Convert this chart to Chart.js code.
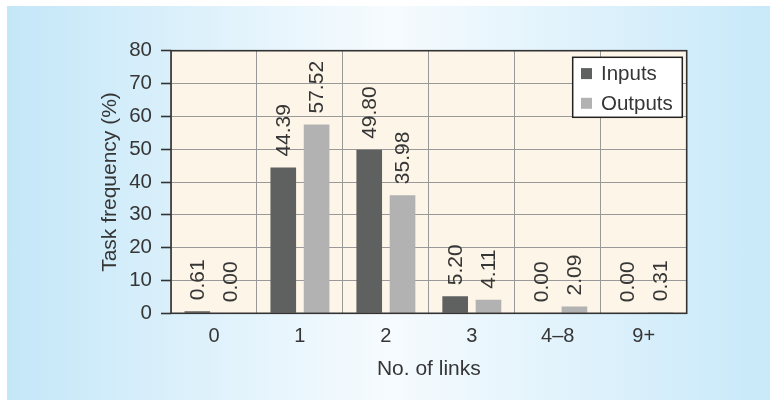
<!DOCTYPE html>
<html>
<head>
<meta charset="utf-8">
<script src="https://cdn.jsdelivr.net/npm/chart.js@4.4.1/dist/chart.umd.min.js"></script>
<style>
  html, body { margin: 0; padding: 0; background: #ffffff; }
  #wrap { position: relative; width: 770px; height: 405px; overflow: hidden; }
  #panel {
    position: absolute; left: 7px; top: 6px; width: 763px; height: 394px;
    background: linear-gradient(to right, #c4e7f8 0%, #e2f3fc 30%, #f6fbfe 50%, #e2f3fc 72%, #c8e9f9 100%);
  }
  #c { position: absolute; left: 0; top: 0; }
</style>
</head>
<body>
<div id="wrap">
  <div id="panel"></div>
  <canvas id="c" width="770" height="405"></canvas>
</div>
<script>
// Share of tasks by number of links
const categories = ['0', '1', '2', '3', '4\u20138', '9+'];
const inputs  = [0.61, 44.39, 49.80, 5.20, 0.00, 0.00];
const outputs = [0.00, 57.52, 35.98, 4.11, 2.09, 0.31];
const yTicks  = [0, 10, 20, 30, 40, 50, 60, 70, 80];
const seriesNames = ['Inputs', 'Outputs'];

const FONT = '"Liberation Sans", Arial, Helvetica, sans-serif';
const TEXT = '#363636';
const DARK = '#5f6160';
const LIGHT = '#b2b2b2';

// Cream plot background
const plotFill = {
  id: 'plotFill',
  beforeDraw(chart) {
    const { ctx, chartArea: a } = chart;
    ctx.save();
    ctx.fillStyle = '#fdf5e7';
    ctx.fillRect(a.left, a.top, a.right - a.left, a.bottom - a.top);
    ctx.restore();
  }
};

// Frame around the plot, rotated value labels and the boxed legend
const decorations = {
  id: 'decorations',
  afterDraw(chart) {
    const { ctx, chartArea: a } = chart;
    ctx.save();
    ctx.strokeStyle = '#333333';
    ctx.lineWidth = 1.6;
    ctx.strokeRect(a.left, a.top, a.right - a.left, a.bottom - a.top);

    ctx.fillStyle = TEXT;
    ctx.font = '21px ' + FONT;
    ctx.textAlign = 'left';
    ctx.textBaseline = 'middle';
    chart.data.datasets.forEach((ds, di) => {
      chart.getDatasetMeta(di).data.forEach((bar, i) => {
        ctx.save();
        ctx.translate(bar.x, bar.y - 11);
        ctx.rotate(-Math.PI / 2);
        ctx.fillText(ds.data[i].toFixed(2), 0, 1);
        ctx.restore();
      });
    });

    // legend box in the upper right corner of the plot
    const bx = a.right - 4.4, by = a.top + 6.6, bw = 109.6, bh = 60;
    const x0 = bx - bw;
    ctx.fillStyle = '#ffffff';
    ctx.fillRect(x0, by, bw, bh);
    ctx.strokeStyle = '#222222';
    ctx.lineWidth = 1.5;
    ctx.strokeRect(x0, by, bw, bh);
    ctx.font = '20.5px ' + FONT;
    ctx.textBaseline = 'middle';
    chart.data.datasets.forEach((ds, di) => {
      const cy = by + 16.3 + di * 29.7;
      ctx.fillStyle = ds.backgroundColor;
      ctx.fillRect(x0 + 8.3, cy - 5.5, 11, 11);
      ctx.fillStyle = TEXT;
      ctx.fillText(ds.label, x0 + 28.3, cy + 1);
    });
    ctx.restore();
  }
};

new Chart(document.getElementById('c'), {
  type: 'bar',
  data: {
    labels: categories,
    datasets: [
      { label: seriesNames[0], data: inputs, backgroundColor: DARK },
      { label: seriesNames[1], data: outputs, backgroundColor: LIGHT }
    ]
  },
  options: {
    responsive: false,
    animation: false,
    layout: { padding: { top: 50.7, right: 83.3, left: 0, bottom: 0 } },
    datasets: { bar: { categoryPercentage: 0.775, barPercentage: 0.77 } },
    plugins: { legend: { display: false }, tooltip: { enabled: false } },
    scales: {
      x: {
        afterFit(scale) { scale.height = 91.7; },
        grid: { display: true, offset: true, color: '#999999', lineWidth: 1, drawTicks: false },
        border: { display: false },
        ticks: { color: TEXT, font: { family: FONT, size: 20 }, padding: 11 },
        title: {
          display: true, text: 'No. of links', color: TEXT,
          font: { family: FONT, size: 21 }, padding: { top: 0, bottom: 23.4 }
        }
      },
      y: {
        min: 0, max: 80,
        afterFit(scale) { scale.width = 171; },
        afterBuildTicks(scale) { scale.ticks = yTicks.map(v => ({ value: v })); },
        grid: { color: '#999999', lineWidth: 1, tickLength: 10, tickColor: '#333333', tickWidth: 1.6 },
        border: { display: false },
        ticks: { color: TEXT, font: { family: FONT, size: 20.5 }, padding: 9 },
        title: {
          display: true, text: 'Task frequency (%)', color: TEXT,
          font: { family: FONT, size: 21 }, padding: { top: 98, bottom: 0 }
        }
      }
    }
  },
  plugins: [plotFill, decorations]
});
</script>
</body>
</html>
